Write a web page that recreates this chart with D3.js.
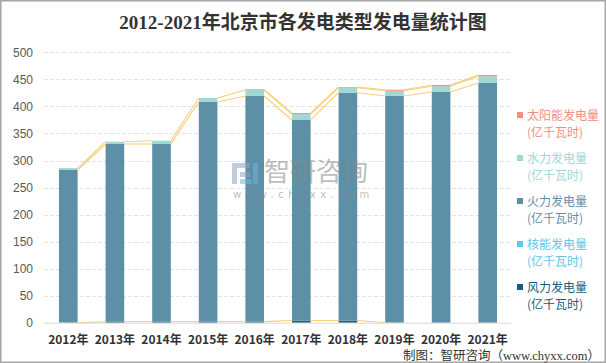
<!DOCTYPE html>
<html>
<head>
<meta charset="utf-8">
<script src="https://cdn.jsdelivr.net/npm/d3@7"></script>
<style>
  body { margin: 0; background: #fff; }
  svg { display: block; }
</style>
</head>
<body>
<div id="chart"></div>
<script>
// data (亿千瓦时)
const years = ['2012年', '2013年', '2014年', '2015年', '2016年', '2017年', '2018年', '2019年', '2020年', '2021年'];
const wind = [0, 2, 2, 2, 2, 4, 4, 0, null, null];
const nuclear = [null, null, null, null, null, null, null, null, null, null];
const thermal = [282.5, 328.6, 328.6, 406.3, 417.4, 371, 421.5, 419.4, 426.8, 443.4];
const hydro = [3.5, 4.2, 6, 7.4, 11, 11, 9.2, 9.6, 10.5, 12.4];
const solar = [null, null, null, null, 1.3, 1.8, 1.3, 2, 2.4, 2.4];
const yTicks = [0, 50, 100, 150, 200, 250, 300, 350, 400, 450, 500];

// stacking order bottom -> top
const series = [
    { name: '风力发电量', values: wind, color: '#125f82' },
    { name: '核能发电量', values: nuclear, color: '#5ec6ef' },
    { name: '火力发电量', values: thermal, color: '#5d90a7' },
    { name: '水力发电量', values: hydro, color: '#a0d8d4' },
    { name: '太阳能发电量', values: solar, color: '#f0907a' }
];

const width = 606, height = 363;
const svg = d3.select('#chart').append('svg')
    .attr('width', width)
    .attr('height', height);

// outer frame
svg.append('rect')
    .attr('x', 0.75).attr('y', 0.75)
    .attr('width', width - 1.5).attr('height', height - 1.5)
    .attr('fill', '#fff')
    .attr('stroke', '#a6a6a6')
    .attr('stroke-width', 1.5);

// title
svg.append('text')
    .attr('x', 303).attr('y', 29)
    .attr('text-anchor', 'middle')
    .attr('font-family', '"Liberation Serif", "Noto Sans CJK SC", serif')
    .attr('font-size', '19px')
    .attr('font-weight', 'bold')
    .attr('fill', '#333')
    .text('2012-2021年北京市各发电类型发电量统计图');

const x = d3.scaleBand()
    .domain(years)
    .range([45, 511])
    .paddingInner(0.6)
    .paddingOuter(0.3);

const y = d3.scaleLinear()
    .domain([0, 500])
    .range([322.7, 52.4]);

// gridlines
svg.append('g')
    .selectAll('line')
    .data(yTicks.filter(d => d > 0))
    .enter()
    .append('line')
    .attr('x1', 44).attr('x2', 511)
    .attr('y1', d => Math.round(y(d)) + 0.5)
    .attr('y2', d => Math.round(y(d)) + 0.5)
    .attr('stroke', '#e3e3e3')
    .attr('stroke-dasharray', '4,2');

// y axis labels
const yAxis = svg.append('g')
    .attr('transform', 'translate(33,0)')
    .call(d3.axisLeft(y).tickValues(yTicks).tickSize(0).tickPadding(0));
yAxis.select('.domain').remove();
yAxis.selectAll('text')
    .attr('font-family', '"Liberation Sans", Arial, sans-serif')
    .attr('font-size', '12px')
    .attr('fill', '#595959');

// stacked bars
const stacked = d3.stack()
    .keys(d3.range(series.length))
    .value((d, k) => series[k].values[d] || 0)(d3.range(years.length));

stacked.forEach((layer, k) => {
    svg.append('g')
        .attr('fill', series[k].color)
        .selectAll('rect')
        .data(layer.map((d, i) => ({ i, y0: d[0], y1: d[1] })))
        .enter()
        .append('rect')
        .attr('x', d => x(years[d.i]))
        .attr('width', x.bandwidth())
        .attr('y', d => y(d.y1))
        .attr('height', d => y(d.y0) - y(d.y1));
});

// series lines (tops of each series joined between bars)
const lines = svg.append('g')
    .attr('stroke', '#f8cf73')
    .attr('stroke-width', 1.1)
    .attr('fill', 'none');
stacked.forEach((layer, k) => {
    for (let i = 0; i < years.length - 1; i++) {
        const a = series[k].values[i], b = series[k].values[i + 1];
        if (a == null || b == null) continue;
        lines.append('line')
            .attr('x1', x(years[i]) + x.bandwidth())
            .attr('y1', y(layer[i][1]))
            .attr('x2', x(years[i + 1]))
            .attr('y2', y(layer[i + 1][1]));
    }
});

// baseline
svg.append('line')
    .attr('x1', 44).attr('x2', 511)
    .attr('y1', y(0) + 0.5).attr('y2', y(0) + 0.5)
    .attr('stroke', '#d9d9d9');

// x axis labels
const xAxis = svg.append('g')
    .attr('transform', `translate(0,${y(0)})`)
    .call(d3.axisBottom(x).tickSize(0).tickPadding(13));
xAxis.select('.domain').remove();
xAxis.selectAll('text')
    .attr('font-family', '"Noto Sans CJK SC", sans-serif')
    .attr('font-size', '12px')
    .attr('font-weight', 'bold')
    .attr('fill', '#333');

// watermark
const wm = svg.append('g').attr('opacity', 0.55);
wm.append('rect').attr('x', 232).attr('y', 163).attr('width', 18).attr('height', 5).attr('fill', '#8fa3c4');
wm.append('rect').attr('x', 232).attr('y', 163).attr('width', 5).attr('height', 21).attr('fill', '#8fa3c4');
wm.append('rect').attr('x', 240).attr('y', 172).attr('width', 10).attr('height', 5).attr('fill', '#8fa3c4');
wm.append('rect').attr('x', 253).attr('y', 163).attr('width', 5).attr('height', 21).attr('fill', '#6fb6e0');
wm.append('rect').attr('x', 240).attr('y', 179).attr('width', 12).attr('height', 5).attr('fill', '#6fb6e0');
wm.append('text')
    .attr('x', 264).attr('y', 181)
    .attr('font-family', '"Noto Sans CJK SC", sans-serif')
    .attr('font-size', '26px')
    .attr('fill', '#8a8a8a')
    .text('智研咨询');
wm.append('text')
    .attr('x', 233).attr('y', 198)
    .attr('font-family', '"DejaVu Sans", sans-serif')
    .attr('font-size', '10px')
    .attr('letter-spacing', '4.6px')
    .attr('fill', '#8a8a8a')
    .text('www.chyxx.com');

// legend (top entry = top of stack)
const legend = svg.append('g')
    .selectAll('g')
    .data(series.slice().reverse())
    .enter()
    .append('g')
    .attr('transform', (d, i) => `translate(517,${116 + i * 43})`);
legend.append('rect')
    .attr('x', 0).attr('y', -4)
    .attr('width', 6).attr('height', 6)
    .attr('fill', d => d.color);
legend.append('text')
    .attr('x', 10).attr('y', 4)
    .attr('font-family', '"Noto Sans CJK SC", sans-serif')
    .attr('font-size', '12px')
    .attr('fill', d => d.color)
    .text(d => d.name);
legend.append('text')
    .attr('x', 10).attr('y', 21)
    .attr('font-family', '"Noto Sans CJK SC", sans-serif')
    .attr('font-size', '12px')
    .attr('fill', d => d.color)
    .text('(亿千瓦时)');

// source note
svg.append('text')
    .attr('x', 600).attr('y', 360)
    .attr('text-anchor', 'end')
    .attr('font-family', '"Liberation Serif", "Noto Sans CJK SC", serif')
    .attr('font-size', '12.5px')
    .attr('fill', '#333')
    .text('制图：智研咨询（www.chyxx.com）');
</script>
</body>
</html>
